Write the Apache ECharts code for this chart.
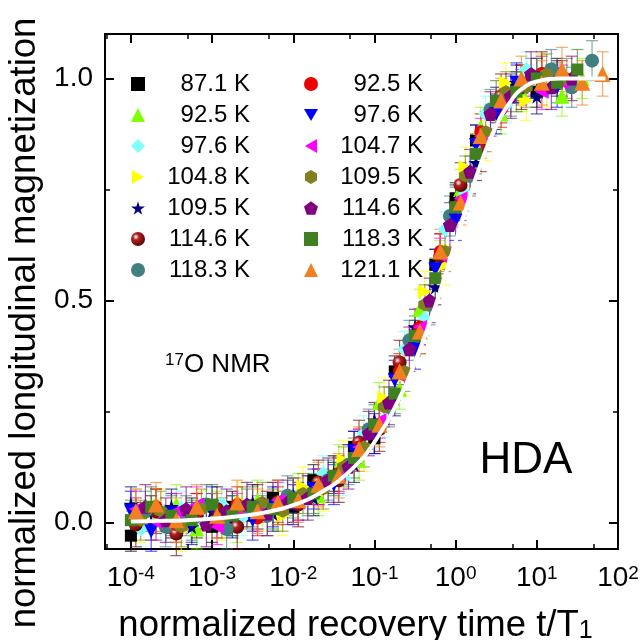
<!DOCTYPE html>
<html>
<head>
<meta charset="utf-8">
<script src="https://cdn.jsdelivr.net/npm/echarts@6/dist/echarts.min.js"></script>
<style>
  html, body { margin: 0; padding: 0; background: #fff; }
  #chart { width: 643px; height: 640px; }
</style>
</head>
<body>
<div id="chart"></div>
<script>
// time grids (t/T1) used by the temperature series
const tA = [1.0e-4, 1.78e-4, 3.16e-4, 5.62e-4, 1.0e-3, 1.78e-3, 3.16e-3, 5.62e-3, 0.01, 0.0178, 0.0316, 0.0562, 0.1, 0.178, 0.316, 0.562, 1.0, 1.78, 3.16, 5.62, 10, 17.8, 31.6, 56.2];
const tB = [1.15e-4, 2.04e-4, 3.63e-4, 6.46e-4, 1.15e-3, 2.04e-3, 3.63e-3, 6.46e-3, 0.0115, 0.0204, 0.0363, 0.0646, 0.115, 0.204, 0.363, 0.646, 1.15, 2.04, 3.63, 6.46, 11.5, 20.4, 36.3, 64.6];
const tC = [1.32e-4, 2.34e-4, 4.17e-4, 7.41e-4, 1.32e-3, 2.34e-3, 4.17e-3, 7.41e-3, 0.0132, 0.0234, 0.0417, 0.0741, 0.132, 0.234, 0.417, 0.741, 1.32, 2.34, 4.17, 7.41, 13.2, 23.4, 41.7];
const tD = [1.51e-4, 2.69e-4, 4.79e-4, 8.51e-4, 1.51e-3, 2.69e-3, 4.79e-3, 8.51e-3, 0.0151, 0.0269, 0.0479, 0.0851, 0.151, 0.269, 0.479, 0.851, 1.51, 2.69, 4.79, 8.51, 15.1, 26.9, 47.9];

// normalized magnetization for each temperature
const m871   = [-0.03, 0.025, 0.0, 0.02, -0.01, 0.035, 0.015, 0.055, 0.035, 0.095, 0.1, 0.17, 0.19, 0.34, 0.42, 0.58, 0.73, 0.86, 0.92, 0.98, 0.97, 1.01];
const m925a  = [0.03, 0.005, 0.04, -0.015, 0.025, 0.0, 0.05, 0.025, 0.065, 0.06, 0.13, 0.14, 0.27, 0.3, 0.48, 0.59, 0.75, 0.89, 0.92, 0.97, 1.01, 0.96, 1.0];
const m976a  = [-0.015, 0.0, 0.03, 0.005, 0.04, 0.01, 0.025, 0.05, 0.045, 0.11, 0.1, 0.2, 0.23, 0.39, 0.46, 0.66, 0.74, 0.92, 0.94, 1.02, 0.97, 0.99];
const m1048  = [0.0, 0.03, -0.02, 0.025, 0.005, 0.045, 0.025, 0.015, 0.08, 0.07, 0.14, 0.16, 0.28, 0.33, 0.52, 0.58, 0.8, 0.86, 0.99, 0.95, 0.98];
const m1095a = [0.04, 0.0, 0.035, -0.01, 0.025, 0.005, 0.045, 0.02, 0.06, 0.055, 0.11, 0.13, 0.23, 0.28, 0.44, 0.53, 0.72, 0.81, 0.94, 0.99, 0.96, 1.0];
const m1146a = [-0.005, 0.025, -0.025, 0.015, 0.03, -0.01, 0.035, 0.045, 0.04, 0.09, 0.095, 0.18, 0.21, 0.36, 0.43, 0.6, 0.76, 0.84, 0.96, 0.98, 1.01];
const m1183a = [0.025, -0.01, 0.015, 0.04, -0.015, 0.03, 0.015, 0.06, 0.06, 0.095, 0.13, 0.21, 0.26, 0.41, 0.49, 0.69, 0.78, 0.93, 0.96, 1.0, 1.02, 0.98, 1.04];
const m925b  = [0.015, 0.035, -0.005, 0.025, 0.005, 0.04, 0.01, 0.04, 0.045, 0.08, 0.11, 0.17, 0.22, 0.34, 0.44, 0.61, 0.72, 0.88, 0.93, 0.99, 1.01, 1.0];
const m976b  = [0.025, -0.02, 0.02, 0.0, 0.035, 0.015, 0.005, 0.035, 0.04, 0.075, 0.085, 0.16, 0.2, 0.32, 0.39, 0.57, 0.68, 0.85, 0.92, 0.99, 1.0, 0.98];
const m1047  = [0.03, 0.0, 0.025, 0.04, -0.01, 0.025, 0.02, 0.05, 0.045, 0.08, 0.105, 0.17, 0.23, 0.33, 0.44, 0.6, 0.73, 0.87, 0.94, 0.98, 0.97, 0.99];
const m1095b = [0.005, 0.025, -0.01, 0.03, 0.01, 0.035, 0.045, 0.025, 0.065, 0.075, 0.125, 0.17, 0.26, 0.34, 0.49, 0.61, 0.78, 0.88, 0.97, 0.98, 1.01, 1.0];
const m1146b = [0.035, 0.005, 0.03, -0.005, 0.025, 0.04, 0.02, 0.045, 0.055, 0.095, 0.125, 0.2, 0.27, 0.39, 0.5, 0.67, 0.79, 0.92, 0.96, 1.01, 0.98, 1.0];
const m1183b = [0.005, 0.035, 0.015, 0.005, 0.04, 0.015, 0.035, 0.03, 0.055, 0.065, 0.105, 0.145, 0.22, 0.29, 0.42, 0.55, 0.71, 0.83, 0.95, 0.97, 1.0, 0.99, 1.02];
const m1211  = [0.025, 0.04, 0.005, 0.035, 0.015, 0.045, 0.025, 0.045, 0.05, 0.085, 0.105, 0.165, 0.22, 0.34, 0.43, 0.61, 0.72, 0.87, 0.95, 1.0, 0.99, 1.02, 0.99, 1.01];

// error bar half-heights per series
const errs = [0.035, 0.045, 0.04, 0.045, 0.04, 0.05, 0.045, 0.04, 0.045, 0.04, 0.045, 0.05, 0.045, 0.05];

// white fit curve
const fitT = [1e-4, 2e-4, 5e-4, 1e-3, 2e-3, 5e-3, 0.01, 0.02, 0.05, 0.1, 0.2, 0.3, 0.5, 0.7, 1, 1.5, 2, 3, 5, 7, 10, 20, 70];
const fitM = [0.002, 0.003, 0.005, 0.008, 0.013, 0.024, 0.039, 0.063, 0.116, 0.181, 0.277, 0.35, 0.46, 0.541, 0.632, 0.735, 0.803, 0.884, 0.954, 0.98, 0.993, 0.9997, 1.0];

// axis ticks
const xMajor = [1e-4, 1e-3, 1e-2, 1e-1, 1, 10, 100];
const xMinor = [5e-5, 5e-4, 5e-3, 5e-2, 0.5, 5, 50];
const yMajor = [0, 0.5, 1.0];
const yMinor = [0.25, 0.75];

const labels = ['87.1 K', '92.5 K', '97.6 K', '104.8 K', '109.5 K', '114.6 K', '118.3 K',
                '92.5 K', '97.6 K', '104.7 K', '109.5 K', '114.6 K', '118.3 K', '121.1 K'];
const values = [m871, m925a, m976a, m1048, m1095a, m1146a, m1183a, m925b, m976b, m1047, m1095b, m1146b, m1183b, m1211];
const grids = [tA, tB, tC, tC, tA, tB, tD, tB, tA, tB, tC, tD, tA, tB];

const colors = ['#000000', '#80ff00', '#80ffff', '#ffff00', '#000080', '#800000', '#408080',
                '#ee0000', '#0000ff', '#ff00ff', '#808020', '#800080', '#408020', '#f08020'];
const symbols = [
  'rect', 'triangle', 'diamond', 'path://M0,0L17.3,10L0,20Z',
  'path://M50,0L61,35L98,35L68,57L79,91L50,70L21,91L32,57L2,35L39,35Z',
  'circle', 'circle', 'circle',
  'path://M0,0L20,0L10,17.3Z', 'path://M17.3,0L0,10L17.3,20Z',
  'path://M50,0L93,25L93,75L50,100L7,75L7,25Z',
  'path://M50,0L98,35L79,91L21,91L2,35Z',
  'rect', 'triangle'
];
const sizes = [12, 15, 15, 14, 15, 14, 14, 13, 14, 14, 13, 14, 12, 16];

const FONT = 'Liberation Sans, Arial, Helvetica, sans-serif';

const chart = echarts.init(document.getElementById('chart'), null, { renderer: 'canvas' });

function itemColor(i) {
  if (i === 5) {
    // shaded sphere
    return {
      type: 'radial', x: 0.35, y: 0.35, r: 0.75,
      colorStops: [
        { offset: 0, color: '#ffffff' },
        { offset: 0.3, color: '#b02020' },
        { offset: 1, color: '#500000' }
      ]
    };
  }
  return colors[i];
}

function errorBar(color) {
  return function (params, api) {
    const x = api.value(0), y = api.value(1), e = api.value(2);
    const hi = api.coord([x, y + e]);
    const lo = api.coord([x, y - e]);
    const w = 6;
    const st = { stroke: color, lineWidth: 1.2, opacity: 0.65 };
    return {
      type: 'group',
      children: [
        { type: 'line', shape: { x1: hi[0], y1: hi[1], x2: lo[0], y2: lo[1] }, style: st },
        { type: 'line', shape: { x1: hi[0] - w, y1: hi[1], x2: hi[0] + w, y2: hi[1] }, style: st },
        { type: 'line', shape: { x1: lo[0] - w, y1: lo[1], x2: lo[0] + w, y2: lo[1] }, style: st }
      ]
    };
  };
}

const series = [];
labels.forEach(function (lab, i) {
  const data = values[i].map(function (m, j) { return [grids[i][j], m, errs[i]]; });
  series.push({
    name: 'S' + i,
    type: 'scatter',
    symbol: symbols[i],
    symbolSize: sizes[i],
    itemStyle: { color: itemColor(i), opacity: 1 },
    data: data,
    z: 2
  });
  series.push({
    name: 'E' + i,
    type: 'custom',
    renderItem: errorBar(colors[i]),
    encode: { x: 0, y: 1 },
    data: data,
    z: 2
  });
});
series.push({
  name: 'fit',
  type: 'line',
  smooth: true,
  showSymbol: false,
  lineStyle: { color: '#ffffff', width: 4 },
  data: fitT.map(function (t, j) { return [t, fitM[j]]; }),
  z: 10
});

const axisLine = { show: true, onZero: false, lineStyle: { color: '#000', width: 2 } };

function xAx(pos, ticks, len, withLabels) {
  return {
    type: 'log', logBase: 10, min: 4.8e-5, max: 100, position: pos,
    axisLine: axisLine,
    splitLine: { show: false },
    axisTick: { inside: true, length: len, customValues: ticks, lineStyle: { color: '#000', width: len > 6 ? 2 : 1.5 } },
    axisLabel: withLabels ? {
      customValues: ticks,
      margin: 15,
      formatter: function (v) {
        return '{b|10}{s|' + Math.round(Math.log10(v)) + '}';
      },
      rich: {
        b: { fontSize: 28, fontFamily: FONT, color: '#000' },
        s: { fontSize: 19, fontFamily: FONT, color: '#000', verticalAlign: 'top' }
      }
    } : { show: false }
  };
}

function yAx(pos, ticks, len, withLabels) {
  return {
    type: 'value', min: -0.06, max: 1.1, position: pos,
    axisLine: axisLine,
    splitLine: { show: false },
    axisTick: { inside: true, length: len, customValues: ticks, lineStyle: { color: '#000', width: len > 6 ? 2 : 1.5 } },
    axisLabel: withLabels ? {
      customValues: ticks,
      margin: 12,
      fontSize: 28, fontFamily: FONT, color: '#000',
      formatter: function (v) { return v.toFixed(1); }
    } : { show: false }
  };
}

const xAxes = [xAx('bottom', xMajor, 9, true), xAx('bottom', xMinor, 5, false), xAx('top', xMajor, 9, false), xAx('top', xMinor, 5, false)];
xAxes[0].name = '{n|normalized recovery time t/T}{sub|1}';
xAxes[0].nameLocation = 'middle';
xAxes[0].nameGap = 58;
xAxes[0].nameTextStyle = {
  padding: [0, 12, 0, 0],
  rich: {
    n: { fontSize: 36.5, fontFamily: FONT, color: '#000' },
    sub: { fontSize: 25, fontFamily: FONT, color: '#000', verticalAlign: 'bottom' }
  }
};
const yAxes = [yAx('left', yMajor, 9, true), yAx('left', yMinor, 5, false), yAx('right', yMajor, 9, false), yAx('right', yMinor, 5, false)];

function legendCol(left, from) {
  const keys = [];
  for (let i = from; i < from + 7; i++) keys.push('S' + i);
  return {
    orient: 'vertical',
    left: left, top: 67,
    itemWidth: 14, itemHeight: 14, itemGap: 7,
    selectedMode: false,
    data: keys,
    formatter: function (name) { return '{t|' + labels[+name.slice(1)] + '}'; },
    textStyle: {
      rich: { t: { fontSize: 24, fontFamily: FONT, color: '#000', width: 100, align: 'right', lineHeight: 24 } }
    }
  };
}

const option = {
  animation: false,
  backgroundColor: '#fff',
  grid: { left: 105, right: 25, top: 34, bottom: 91, outerBoundsMode: 'none', containLabel: false },
  xAxis: xAxes,
  yAxis: yAxes,
  legend: [legendCol(126, 0), legendCol(299, 7)],
  graphic: [
    {
      type: 'text', x: 25, y: 323, rotation: Math.PI / 2,
      style: { text: 'normalized longitudinal magnetization', font: '36.5px ' + FONT, fill: '#000', align: 'center', verticalAlign: 'middle' }
    },
    {
      type: 'text', x: 526, y: 461,
      style: { text: 'HDA', font: '44px ' + FONT, fill: '#000', align: 'center', verticalAlign: 'middle' }
    },
    {
      type: 'text', x: 165, y: 365,
      style: {
        text: '{s|17}{n|O NMR}', fill: '#000', align: 'left', verticalAlign: 'middle',
        rich: {
          s: { fontSize: 17, fontFamily: FONT, verticalAlign: 'top' },
          n: { fontSize: 26, fontFamily: FONT }
        }
      }
    }
  ],
  series: series
};

chart.setOption(option);
</script>
</body>
</html>
